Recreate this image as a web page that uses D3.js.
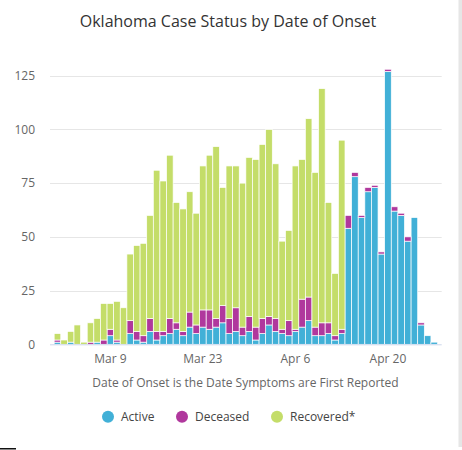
<!DOCTYPE html>
<html>
<head>
<meta charset="utf-8">
<script src="https://cdn.jsdelivr.net/npm/d3@7"></script>
<style>
  html, body { margin: 0; padding: 0; background: #fff; }
  svg { display: block; font-family: "Open Sans", sans-serif; }
</style>
</head>
<body>
<svg id="chart" width="462" height="450"></svg>
<script>
// ---- Data ----
const startDate = "2020-03-01";
const endDate = "2020-04-27";
const active = [1,0,1,0,0,0,1,0,4,1,0,5,2,1,6,2,4,5,7,4,8,5,8,7,8,10,5,6,4,6,2,5,9,6,5,4,6,8,11,4,4,5,2,5,54,78,59,71,73,42,127,62,60,48,59,9,4,1];
const deceased = [1,0,0,0,0,1,0,2,3,1,0,6,4,3,6,4,2,7,3,2,7,4,8,9,4,8,7,11,4,7,6,7,4,6,2,7,1,13,11,4,6,5,2,2,6,2,1,2,1,1,1,2,1,2,0,1,0,0];
const recovered = [3,2,5,9,1,9,11,17,12,18,17,31,40,43,48,75,70,76,56,57,56,52,67,72,80,55,71,66,67,74,78,81,87,72,41,42,76,65,83,72,109,56,29,88,0,0,0,0,0,0,0,0,0,0,0,0,0,0];
const seriesNames = ["Active", "Deceased", "Recovered*"];
const seriesColors = ["#41b0d7", "#b0389d", "#c4dd69"];
const tickDates = ["2020-03-09", "2020-03-23", "2020-04-06", "2020-04-20"];
const yTicks = [0, 25, 50, 75, 100, 125];
const titleText = "Oklahoma Case Status by Date of Onset";
const xTitleText = "Date of Onset is the Date Symptoms are First Reported";

// ---- Build ----
const parse = d3.utcParse("%Y-%m-%d");
const fmtKey = d3.utcFormat("%Y-%m-%d");
const fmtLabel = d3.utcFormat("%b %-d");
const dates = d3.utcDay.range(parse(startDate), d3.utcDay.offset(parse(endDate), 1)).map(fmtKey);

const rows = dates.map((d, i) => ({ date: d, Active: active[i], Deceased: deceased[i], "Recovered*": recovered[i] }));
const stack = d3.stack().keys(seriesNames)(rows);

const svg = d3.select("#chart");
const plot = { left: 50, right: 441.7, top: 75.7, bottom: 344.3 };

const x = d3.scaleBand().domain(dates).range([plot.left, plot.right]).paddingInner(0).paddingOuter(0.63);
const y = d3.scaleLinear().domain([0, 125]).range([plot.bottom, plot.top]);

// title
svg.append("text")
  .attr("x", 228).attr("y", 26.5)
  .attr("text-anchor", "middle")
  .attr("font-size", 16)
  .attr("fill", "#333333")
  .text(titleText);

// gridlines
svg.append("g").selectAll("line").data(yTicks.filter(t => t > 0)).join("line")
  .attr("x1", plot.left).attr("x2", plot.right)
  .attr("y1", d => Math.round(y(d)) + 0.5).attr("y2", d => Math.round(y(d)) + 0.5)
  .attr("stroke", "#e6e6e6").attr("stroke-width", 1);

// y axis labels
const yAxis = d3.axisLeft(y).tickValues(yTicks).tickSize(0).tickPadding(0);
const gy = svg.append("g").attr("transform", "translate(35,0)").call(yAxis);
gy.select(".domain").remove();
gy.selectAll("text").attr("font-size", 12).attr("fill", "#666666").attr("font-family", "Open Sans, sans-serif");

// bars
svg.append("g").selectAll("g").data(stack).join("g")
  .attr("fill", (d, i) => seriesColors[i])
  .selectAll("rect").data(d => d.filter(p => p[1] - p[0] > 0)).join("rect")
  .attr("x", d => x(d.data.date))
  .attr("width", x.bandwidth())
  .attr("y", d => y(d[1]))
  .attr("height", d => y(d[0]) - y(d[1]))
  .attr("stroke", "#ffffff").attr("stroke-width", 0.7);

// x axis
const xAxis = d3.axisBottom(x).tickValues(tickDates).tickFormat(d => fmtLabel(parse(d))).tickSize(0).tickPadding(10);
const gx = svg.append("g").attr("transform", `translate(0,${plot.bottom})`).call(xAxis);
gx.select(".domain").attr("stroke", "#ccd6eb").attr("d", `M${plot.left},0.5H${plot.right}`);
gx.selectAll("text").attr("font-size", 12).attr("fill", "#666666").attr("font-family", "Open Sans, sans-serif");

// x axis title
svg.append("text")
  .attr("x", 245.5).attr("y", 386.5)
  .attr("text-anchor", "middle")
  .attr("font-size", 12)
  .attr("fill", "#666666")
  .text(xTitleText);

// legend
const legendX = [108, 182, 277];
const lg = svg.append("g").selectAll("g").data(seriesNames).join("g")
  .attr("transform", (d, i) => `translate(${legendX[i]},416.7)`);
lg.append("circle").attr("r", 6).attr("fill", (d, i) => seriesColors[i]);
lg.append("text").attr("x", 13).attr("y", 4.5)
  .attr("font-size", 12).attr("fill", "#444444")
  .text(d => d);

// frame edges seen in the reference screenshot
svg.append("rect").attr("x", 458.5).attr("y", 0).attr("width", 3.5).attr("height", 447).attr("fill", "#e6e6e6");
svg.append("rect").attr("x", 0).attr("y", 448).attr("width", 16).attr("height", 1.5).attr("fill", "#111111");
</script>
</body>
</html>
